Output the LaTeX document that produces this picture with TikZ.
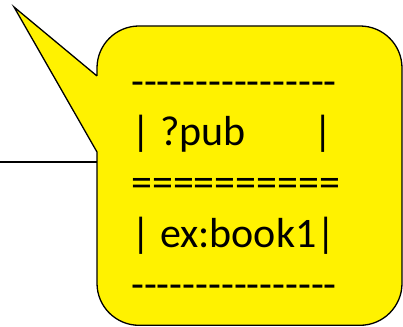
\documentclass[tikz,border=0pt]{standalone}
\usepackage{fontspec}
\newfontfamily\boxfont{Carlito}
\usepackage{tikz}
\usepackage{xcolor}
\usetikzlibrary{positioning}

\begin{document}
\begin{tikzpicture}[x=1pt, y=1pt]
        \useasboundingbox (0, 0) rectangle (403, 326);

        \coordinate (tip) at (14, 319);
        \coordinate (ptop) at (97, 250);
        \coordinate (pbot) at (97, 174);
        \coordinate (linestart) at (0, 164);
        \coordinate (lineend) at (97, 164);

        \draw[line width=1.3pt] (linestart) to (lineend);

        % callout balloon
        \draw[line width=1.3pt, fill=yellow, line join=miter]
            (ptop) -- (tip) -- (pbot)
            [rounded corners=42pt] -- (97, 0.7) -- (402, 0.7) -- (402, 300) -- (97, 300)
            [rounded corners=0pt] -- (ptop);

        \node[anchor=west, inner sep=0pt, align=left,
              font=\boxfont\fontsize{42}{50.8}\selectfont] (table) at (131, 136)
            {----------------\\
             | ?pub\hspace*{58pt} |\\
             ==========\\
             | ex:book1|\\
             ----------------};
    \end{tikzpicture}
\end{document}
